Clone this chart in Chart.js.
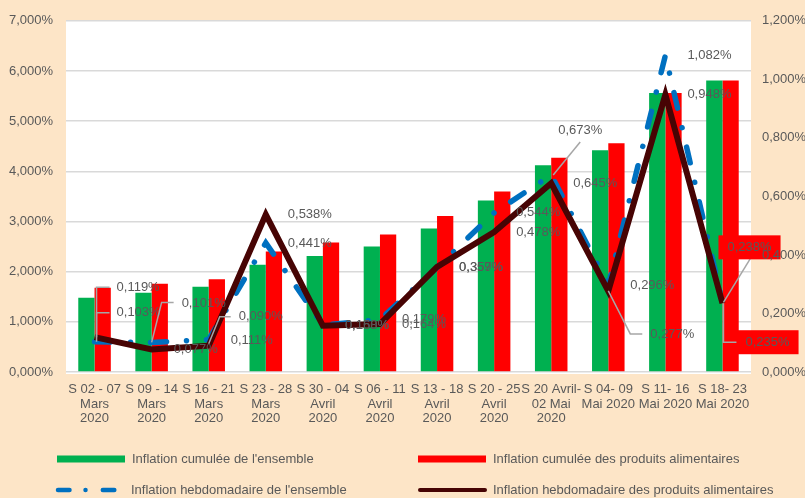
<!DOCTYPE html>
<html lang="fr">
<head>
<meta charset="utf-8">
<title>Inflation cumulée et hebdomadaire</title>
<script src="https://cdn.jsdelivr.net/npm/chart.js@4.4.1/dist/chart.umd.min.js"></script>
<style>
  html, body { margin: 0; padding: 0; background: #FDE5C7; }
  #wrap { width: 805px; height: 498px; position: relative; }
</style>
</head>
<body>
<div id="wrap"><canvas id="graphInflation"></canvas></div>
<script>
// semaines (axe des x)
const semaines = [
  ['S 02 - 07', 'Mars', '2020'],
  ['S 09 - 14', 'Mars', '2020'],
  ['S 16 - 21', 'Mars', '2020'],
  ['S 23 - 28', 'Mars', '2020'],
  ['S 30 - 04', 'Avril', '2020'],
  ['S 06 - 11', 'Avril', '2020'],
  ['S 13 - 18', 'Avril', '2020'],
  ['S 20 - 25', 'Avril', '2020'],
  ['S 20 Avril-', '02 Mai', '2020'],
  ['S 04- 09', 'Mai 2020'],
  ['S 11- 16', 'Mai 2020'],
  ['S 18- 23', 'Mai 2020']
];

// inflation cumulée (axe de gauche, en %)
const cumulEnsemble = [1.48, 1.58, 1.70, 2.14, 2.31, 2.50, 2.86, 3.42, 4.12, 4.42, 5.56, 5.81];
const cumulAlim     = [1.68, 1.76, 1.85, 2.40, 2.58, 2.74, 3.11, 3.60, 4.27, 4.56, 5.56, 5.81];

// inflation hebdomadaire (axe de droite, en %)
const hebdoEnsemble = [0.103, 0.101, 0.111, 0.441, 0.160, 0.179, 0.357, 0.544, 0.673, 0.296, 1.082, 0.238];
const hebdoAlim     = [0.119, 0.077, 0.090, 0.538, 0.158, 0.164, 0.359, 0.478, 0.645, 0.277, 0.948, 0.235];

// graduations des axes
const ticksGauche = [0, 1, 2, 3, 4, 5, 6, 7];
const ticksDroite = [0, 0.2, 0.4, 0.6, 0.8, 1.0, 1.2];

const PEACH = '#FDE5C7';
const GRIS = '#595959';
const POLICE = "'Liberation Sans', Arial, sans-serif";

const fmt = v => v.toFixed(3).replace('.', ',') + '%';

// placement des étiquettes (décalage texte / point, ligne de rappel, fond)
const etiqDefaut = { dx: 22, dy: 0 };
const etiqEnsemble = {
  0: { dx: 22, dy: -29, rappel: [[2, 0], [2, -29], [15, -29]] },
  1: { dx: 30, dy: -39, rappel: [[0, 0], [10, -40], [22, -40]] },
  2: { dx: 22, dy: 1 },
  8: { dx: 7, dy: -45, rappel: [[2, 0], [29, -33]] },
  11: { dx: 5, dy: -55, rappel: [[1, 0], [28, -44]], fond: '#FF0000' }
};
const etiqAlim = {
  0: { dx: 22, dy: -50, rappel: [[2, 0], [2, -50], [15, -50]] },
  2: { dx: 30, dy: -29, rappel: [[0, -2], [11, -29], [22, -29]] },
  9: { dx: 42, dy: 43, rappel: [[0, 0], [22, 43], [34, 43]] },
  11: { dx: 23, dy: 39, rappel: [[1, 0], [1, 39], [15, 39]], fond: '#FF0000' }
};

let zonesFond = [];

const fondPlugin = {
  id: 'fond',
  beforeDraw(chart) {
    const { ctx, chartArea: a, width, height } = chart;
    ctx.save();
    ctx.fillStyle = PEACH;
    ctx.fillRect(0, 0, width, height);
    ctx.fillStyle = '#FFFFFF';
    ctx.fillRect(a.left, a.top, a.right - a.left, a.bottom - a.top + 2);
    ctx.restore();
  }
};

function dessinerEtiquettes(chart, index, reglages) {
  const ctx = chart.ctx;
  const meta = chart.getDatasetMeta(index);
  const valeurs = chart.data.datasets[index].data;
  ctx.save();
  ctx.font = '13px ' + POLICE;
  ctx.textBaseline = 'middle';
  meta.data.forEach((pt, i) => {
    const r = reglages[i] || etiqDefaut;
    const txt = fmt(valeurs[i]);
    const tx = pt.x + r.dx, ty = pt.y + r.dy;
    if (r.rappel) {
      ctx.strokeStyle = '#A6A6A6';
      ctx.lineWidth = 1.5;
      ctx.beginPath();
      r.rappel.forEach(([ox, oy], k) => {
        if (k === 0) ctx.moveTo(pt.x + ox, pt.y + oy);
        else ctx.lineTo(pt.x + ox, pt.y + oy);
      });
      ctx.stroke();
    }
    if (r.fond) {
      const w = ctx.measureText(txt).width;
      const zone = [tx - 9, ty - 12, w + 18, 24];
      ctx.fillStyle = r.fond;
      ctx.fillRect(...zone);
      zonesFond.push(zone);
    }
    ctx.fillStyle = GRIS;
    ctx.fillText(txt, tx, ty);
  });
  ctx.restore();
}

const etiquettesPlugin = {
  id: 'etiquettes',
  afterDatasetsDraw(chart) {
    zonesFond = [];
    dessinerEtiquettes(chart, 2, etiqEnsemble);
    dessinerEtiquettes(chart, 3, etiqAlim);
  },
  afterDraw(chart) {
    const ctx = chart.ctx;

    // les graduations de droite restent lisibles sur les fonds rouges
    if (zonesFond.length) {
      ctx.save();
      ctx.beginPath();
      zonesFond.forEach(z => ctx.rect(...z));
      ctx.clip();
      chart.scales.yDroite.drawLabels(chart.chartArea);
      ctx.restore();
    }

    // légende sur deux colonnes
    const ds = chart.data.datasets;
    const places = [[57, 459], [418, 459], [56, 490], [418, 490]];
    ctx.save();
    ctx.font = '13px ' + POLICE;
    ctx.textBaseline = 'middle';
    ds.forEach((d, i) => {
      const [x, y] = places[i];
      if (d.type === 'bar') {
        ctx.fillStyle = d.backgroundColor;
        ctx.fillRect(x, y - 3.5, 68, 7);
      } else {
        ctx.strokeStyle = d.borderColor;
        ctx.lineCap = 'round';
        ctx.lineWidth = i === 2 ? 4.5 : 4;
        ctx.setLineDash(i === 2 ? [11.5, 16, 0.01, 17.3] : []);
        ctx.beginPath();
        ctx.moveTo(x + 2, y);
        ctx.lineTo(x + 67, y);
        ctx.stroke();
        ctx.setLineDash([]);
      }
      ctx.fillStyle = GRIS;
      ctx.fillText(d.label, x + 75, y);
    });
    ctx.restore();
  }
};

const ctx = document.getElementById('graphInflation').getContext('2d');

new Chart(ctx, {
  data: {
    labels: semaines,
    datasets: [
      {
        type: 'bar',
        label: "Inflation cumulée de l'ensemble",
        data: cumulEnsemble,
        backgroundColor: '#00B050',
        yAxisID: 'yGauche',
        order: 3,
        barPercentage: 1,
        categoryPercentage: 0.57
      },
      {
        type: 'bar',
        label: 'Inflation cumulée des produits alimentaires',
        data: cumulAlim,
        backgroundColor: '#FF0000',
        yAxisID: 'yGauche',
        order: 3,
        barPercentage: 1,
        categoryPercentage: 0.57
      },
      {
        type: 'line',
        label: "Inflation hebdomadaire de l'ensemble",
        data: hebdoEnsemble,
        borderColor: '#0070C0',
        borderWidth: 5.5,
        borderDash: [16, 20, 0.01, 20],
        borderCapStyle: 'round',
        tension: 0,
        pointRadius: 0,
        yAxisID: 'yDroite',
        order: 2
      },
      {
        type: 'line',
        label: 'Inflation hebdomadaire des produits alimentaires',
        data: hebdoAlim,
        borderColor: '#470404',
        borderWidth: 6,
        borderJoinStyle: 'miter',
        tension: 0,
        pointRadius: 0,
        yAxisID: 'yDroite',
        order: 1
      }
    ]
  },
  options: {
    responsive: true,
    maintainAspectRatio: false,
    animation: false,
    layout: { padding: { top: 20, left: 0, right: 0, bottom: 0 } },
    plugins: {
      legend: { display: false },
      tooltip: { enabled: false }
    },
    scales: {
      x: {
        grid: { display: false, drawTicks: false },
        border: { display: false },
        ticks: {
          color: GRIS,
          font: { family: POLICE, size: 13, lineHeight: 1.13 },
          padding: 10,
          maxRotation: 0,
          autoSkip: false
        },
        afterFit(scale) { scale.height = 126; }
      },
      yGauche: {
        position: 'left',
        min: ticksGauche[0],
        max: ticksGauche[ticksGauche.length - 1],
        afterBuildTicks(scale) { scale.ticks = ticksGauche.map(v => ({ value: v })); },
        grid: { color: '#D9D9D9', lineWidth: 1.5, drawTicks: false },
        border: { display: false },
        ticks: {
          color: GRIS,
          font: { family: POLICE, size: 13 },
          padding: 13,
          callback: v => fmt(v)
        },
        afterFit(scale) { scale.width = 66; }
      },
      yDroite: {
        position: 'right',
        min: ticksDroite[0],
        max: ticksDroite[ticksDroite.length - 1],
        afterBuildTicks(scale) { scale.ticks = ticksDroite.map(v => ({ value: v })); },
        grid: { display: false, drawTicks: false },
        border: { display: false },
        ticks: {
          color: GRIS,
          font: { family: POLICE, size: 13 },
          padding: 11,
          callback: v => fmt(v)
        },
        afterFit(scale) { scale.width = 54; }
      }
    }
  },
  plugins: [fondPlugin, etiquettesPlugin]
});
</script>
</body>
</html>
